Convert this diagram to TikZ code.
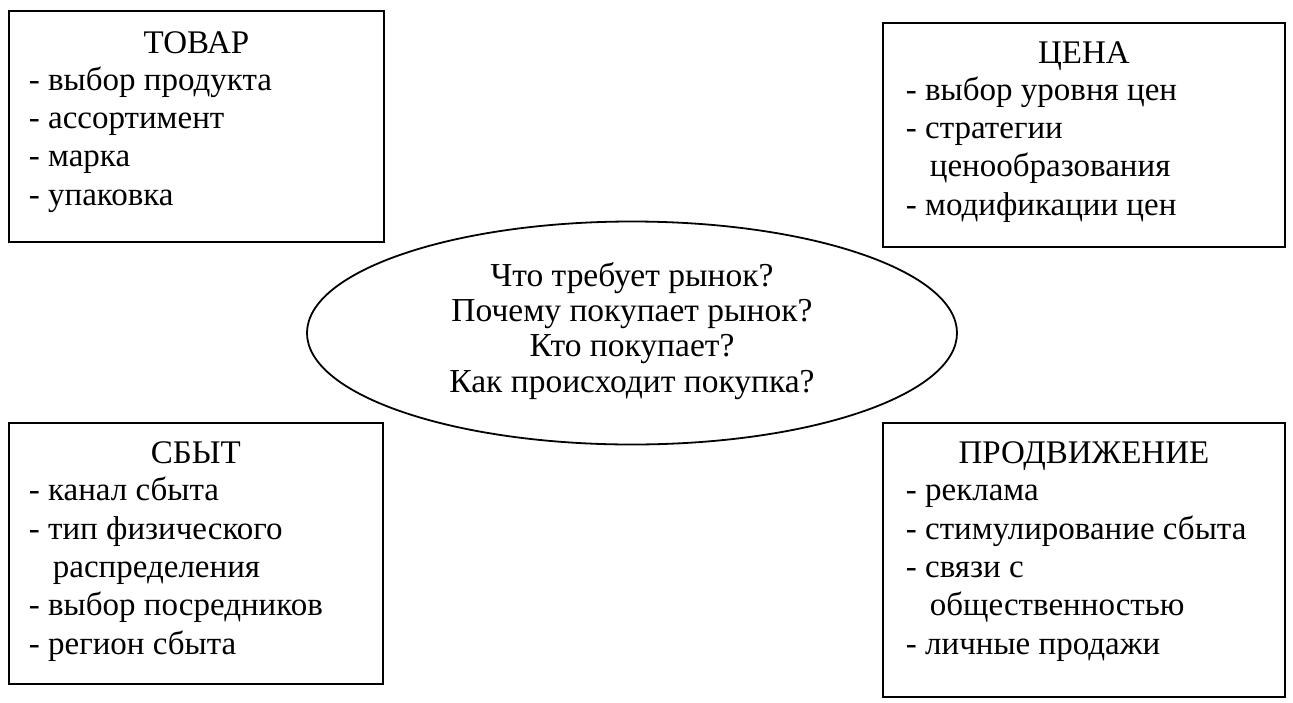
\documentclass[tikz,border=0pt]{standalone}
\usepackage{fontspec}
\setmainfont{Liberation Serif}
\usetikzlibrary{shapes.geometric}
\begin{document}
\begin{tikzpicture}[x=1pt,y=-1pt,line width=1.8pt,
  box/.style={draw,rectangle,anchor=north west,inner sep=0pt},
  ttl/.style={anchor=base,inner sep=0pt,font=\fontsize{33}{38.3}\selectfont},
  lst/.style={anchor=base west,inner sep=0pt,align=left,font=\fontsize{33}{38.3}\selectfont},
  oval/.style={draw,ellipse,inner sep=0pt},
  ovaltext/.style={anchor=base,inner sep=0pt,align=center,font=\fontsize{33.5}{35.3}\selectfont}
]
\useasboundingbox (0,0) rectangle (1293,702);
% boxes
\node[box,minimum width=375pt,minimum height=231pt] (tovar) at (8,10) {};
\node[box,minimum width=402pt,minimum height=224pt] (cena) at (882,22) {};
\node[box,minimum width=374pt,minimum height=261pt] (sbyt) at (8,422) {};
\node[box,minimum width=402pt,minimum height=274pt] (prod) at (882,422) {};
% ellipse
\node[oval,fill=white,minimum width=650pt,minimum height=223pt] (market) at (632,333) {};
\node[ovaltext,yshift=-59pt] (marketT) at (market.center)
  {Что требует рынок?\\Почему покупает рынок?\\Кто покупает?\\Как происходит покупка?};
% titles
\node[ttl,yshift=-43pt] (tovarT) at (tovar.north) {ТОВАР};
\node[ttl,yshift=-41pt] (cenaT) at (cena.north) {ЦЕНА};
\node[ttl,yshift=-41pt] (sbytT) at (sbyt.north) {СБЫТ};
\node[ttl,yshift=-41pt] (prodT) at (prod.north) {ПРОДВИЖЕНИЕ};
% lists (anchored at the baseline of their last line)
\node[lst,xshift=20pt,yshift=-195pt] (tovarL) at (tovar.north west)
  {- выбор продукта\\- ассортимент\\- марка\\- упаковка};
\node[lst,xshift=23pt,yshift=-193pt] (cenaL) at (cena.north west)
  {- выбор уровня цен\\- стратегии\\\hspace*{24pt}ценообразования\\- модификации цен};
\node[lst,xshift=20pt,yshift=-232pt] (sbytL) at (sbyt.north west)
  {- канал сбыта\\- тип физического\\\hspace*{24pt}распределения\\- выбор посредников\\- регион сбыта};
\node[lst,xshift=23pt,yshift=-232pt] (prodL) at (prod.north west)
  {- реклама\\- стимулирование сбыта\\- связи с\\\hspace*{24pt}общественностью\\- личные продажи};
\end{tikzpicture}
\end{document}
